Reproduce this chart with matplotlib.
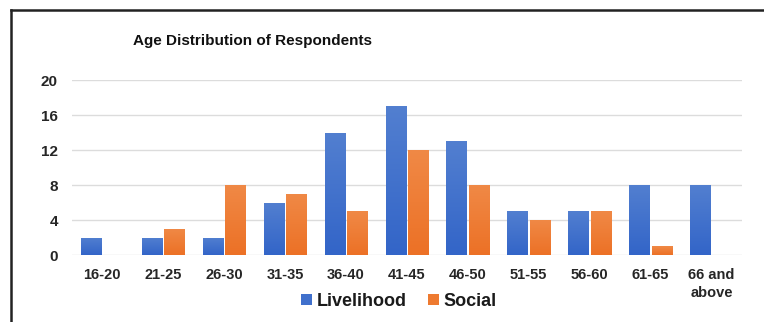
import matplotlib
matplotlib.use("Agg")
import matplotlib.pyplot as plt
import numpy as np
from matplotlib.lines import Line2D
from matplotlib.colors import LinearSegmentedColormap

plt.rcParams["font.family"] = ["Liberation Sans", "DejaVu Sans"]

categories = ["16-20", "21-25", "26-30", "31-35", "36-40", "41-45",
              "46-50", "51-55", "56-60", "61-65", "66 and\nabove"]
livelihood = [2, 2, 2, 6, 14, 17, 13, 5, 5, 8, 8]
social = [0, 3, 8, 7, 5, 12, 8, 4, 5, 1, 0]
y_ticks = [0, 4, 8, 12, 16, 20]

BLUE = "#4070CC"
ORANGE = "#EE7A30"
blue_grad = LinearSegmentedColormap.from_list("bg", ["#3365C8", "#527FD0"])
orange_grad = LinearSegmentedColormap.from_list("og", ["#EC7126", "#F08946"])

fig = plt.figure(figsize=(7.64, 3.22), dpi=100)
ax = fig.add_axes([0.094, 0.208, 0.877, 0.5435])

x = np.arange(len(categories))
w = 0.33
off = 0.185
bars_l = ax.bar(x - off, livelihood, w, color=BLUE, label="Livelihood", zorder=2)
bars_s = ax.bar(x + off, social, w, color=ORANGE, label="Social", zorder=2)

# vertical shading inside each bar
grad = np.linspace(0, 1, 64).reshape(-1, 1)
for bars, cmap in ((bars_l, blue_grad), (bars_s, orange_grad)):
    for b in bars:
        h = b.get_height()
        if h <= 0:
            continue
        x0 = b.get_x()
        im = ax.imshow(grad, cmap=cmap, origin="lower", aspect="auto",
                       extent=(x0, x0 + b.get_width(), 0, h), zorder=3)
        im.set_clip_path(b)

ax.set_xlim(-0.5, len(categories) - 0.5)
ax.set_ylim(0, 20)
ax.set_yticks(y_ticks)
ax.set_xticks(x)
ax.set_xticklabels(categories, fontsize=10.5, fontweight="bold", color="#262626",
                   linespacing=1.4)
ax.set_yticklabels([str(t) for t in y_ticks], fontsize=11, fontweight="bold",
                   color="#262626")
ax.tick_params(axis="both", length=0)
ax.tick_params(axis="x", pad=9)
ax.tick_params(axis="y", pad=10)
for s in ax.spines.values():
    s.set_visible(False)
ax.grid(axis="y", color="#DCDCDC", linewidth=1.0, zorder=0)
ax.set_axisbelow(True)

fig.text(0.33, 0.872, "Age Distribution of Respondents",
         fontweight="bold", fontsize=11, ha="center", va="center",
         color="#111111")

leg = fig.legend(handles=[bars_l, bars_s], labels=["Livelihood", "Social"],
                 loc="center", bbox_to_anchor=(0.522, 0.064), ncol=2,
                 frameon=False, prop={"weight": "bold", "size": 13},
                 handlelength=0.6, handleheight=0.6, handletextpad=0.25,
                 columnspacing=1.2)
for t in leg.get_texts():
    t.set_color("#1a1a1a")

# outer frame: top and left edges
fig.add_artist(Line2D([11 / 764, 1.0], [1 - 10 / 322, 1 - 10 / 322],
                      transform=fig.transFigure, color="#222222", linewidth=1.8))
fig.add_artist(Line2D([11 / 764, 11 / 764], [0.0, 1 - 10 / 322],
                      transform=fig.transFigure, color="#222222", linewidth=1.8))

fig.savefig("out.png", dpi=100)
